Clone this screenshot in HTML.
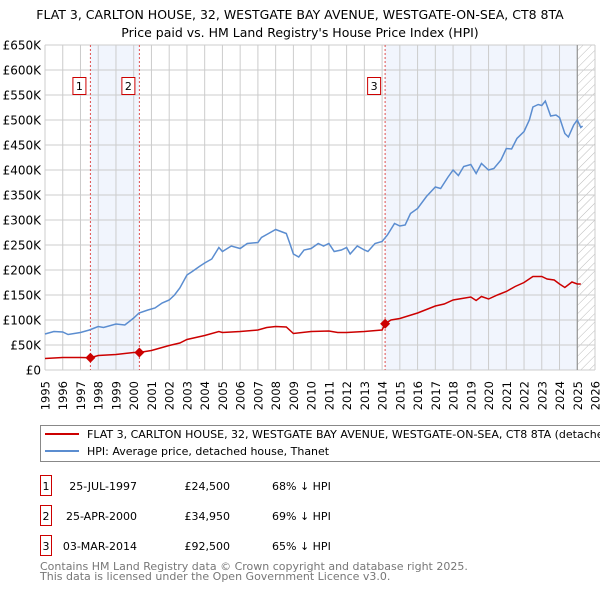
<!DOCTYPE html>
<html><head><meta charset="utf-8"><style>
body{margin:0;background:#fff;width:600px;height:590px;overflow:hidden;font-family:"DejaVu Sans","Liberation Sans",sans-serif;}
svg text{font-family:"DejaVu Sans","Liberation Sans",sans-serif;}
</style></head><body>
<svg id="chart" width="600" height="590">
<defs><pattern id="hatch" width="6" height="6" patternUnits="userSpaceOnUse" patternTransform="rotate(45)"><line x1="0" y1="0" x2="0" y2="6" stroke="#bbb" stroke-width="1"/></pattern></defs>
<text x="300" y="19" text-anchor="middle" font-size="12.5" fill="#000">FLAT 3, CARLTON HOUSE, 32, WESTGATE BAY AVENUE, WESTGATE-ON-SEA, CT8 8TA</text>
<text x="300" y="37" text-anchor="middle" font-size="12.5" fill="#000">Price paid vs. HM Land Registry's House Price Index (HPI)</text>
<g id="plot"></g>
<g>
<rect x="40.5" y="425.5" width="570" height="36" fill="#fff" stroke="#888"/>
<line x1="45" y1="434" x2="79" y2="434" stroke="#cc0000" stroke-width="2"/>
<text x="87" y="438" font-size="11">FLAT 3, CARLTON HOUSE, 32, WESTGATE BAY AVENUE, WESTGATE-ON-SEA, CT8 8TA (detached</text>
<line x1="45" y1="451" x2="79" y2="451" stroke="#5b8dd0" stroke-width="2"/>
<text x="87" y="455" font-size="11">HPI: Average price, detached house, Thanet</text>
</g>
<g id="table" font-size="11"></g>
<text x="40" y="570" font-size="11" fill="#777">Contains HM Land Registry data © Crown copyright and database right 2025.</text>
<text x="40" y="580" font-size="11" fill="#777">This data is licensed under the Open Government Licence v3.0.</text>
</svg>
<script>
const yTicks=[0,50,100,150,200,250,300,350,400,450,500,550,600,650];
const yTickLabels=["£0","£50K","£100K","£150K","£200K","£250K","£300K","£350K","£400K","£450K","£500K","£550K","£600K","£650K"];
const years=[1995,1996,1997,1998,1999,2000,2001,2002,2003,2004,2005,2006,2007,2008,2009,2010,2011,2012,2013,2014,2015,2016,2017,2018,2019,2020,2021,2022,2023,2024,2025,2026];
const hpiT=[1995,1995.5,1996,1996.3,1997,1997.5,1998,1998.3,1999,1999.5,2000,2000.3,2000.8,2001.2,2001.6,2002,2002.3,2002.6,2003,2003.3,2003.7,2004,2004.4,2004.8,2005,2005.5,2006,2006.4,2007,2007.2,2007.6,2008,2008.3,2008.6,2008.8,2009,2009.3,2009.6,2010,2010.4,2010.7,2011,2011.3,2011.7,2012,2012.2,2012.6,2013,2013.2,2013.6,2014,2014.3,2014.7,2015,2015.3,2015.6,2016,2016.5,2017,2017.3,2017.7,2018,2018.3,2018.6,2019,2019.3,2019.6,2020,2020.3,2020.7,2021,2021.3,2021.6,2022,2022.3,2022.5,2022.8,2023,2023.2,2023.5,2023.8,2024,2024.3,2024.5,2024.8,2025,2025.2,2025.3];
const hpiV=[72,77,76,71,75,80,87,85,92,90,104,114,120,124,134,140,150,164,190,197,207,214,222,245,237,248,243,253,255,265,273,281,277,273,253,232,226,240,243,253,248,253,237,240,245,232,248,240,237,253,257,270,293,288,290,313,323,347,366,363,385,400,389,407,411,393,413,400,403,420,443,442,463,477,500,526,531,529,538,508,510,505,473,466,490,500,485,488];
const redT=[1995,1996,1997,1997.56,1998,1999,2000,2000.3,2001,2002,2002.6,2003,2004,2004.8,2005,2006,2007,2007.5,2008,2008.6,2009,2010,2011,2011.5,2012,2013,2014,2014.17,2014.5,2015,2016,2017,2017.5,2018,2018.5,2019,2019.3,2019.6,2020,2020.5,2021,2021.5,2022,2022.5,2023,2023.3,2023.7,2024,2024.3,2024.7,2025,2025.2];
const redV=[23,25,25,24.5,29,31,35,34.95,39,49,54,61,69,77,75,77,80,85,87,86,73,77,78,75,75,77,80,92.5,100,103,114,128,132,140,143,146,139,147,142,150,157,167,175,187,187,182,180,172,165,176,172,172];
const saleT=[1997.56,2000.32,2014.17];
const saleV=[24.5,34.95,92.5];
const saleLabels=["1","2","3"];
const saleDates=["25-JUL-1997","25-APR-2000","03-MAR-2014"];
const salePrices=["£24,500","£34,950","£92,500"];
const saleHpi=["68% ↓ HPI","69% ↓ HPI","65% ↓ HPI"];
const L=45,R=595,T=45,B=370;
const x=t=>L+(t-1995)*(R-L)/31;
const y=v=>B-v*(B-T)/650;
const NS="http://www.w3.org/2000/svg";
const plot=document.getElementById('plot');
function mk(tag,attrs,parent){const e=document.createElementNS(NS,tag);for(const k in attrs)e.setAttribute(k,attrs[k]);(parent||plot).appendChild(e);return e;}
let e;
e=mk('rect',{x:x(saleT[0]),y:T,width:x(saleT[1])-x(saleT[0]),height:B-T,fill:'#eef3fc',opacity:0.8});


e=mk('rect',{x:x(saleT[2]),y:T,width:x(2025)-x(saleT[2]),height:B-T,fill:'#eef3fc',opacity:0.8});


e=mk('rect',{x:x(2025),y:T,width:R-x(2025),height:B-T,fill:'url(#hatch)'});


years.forEach(yr=>{e=mk('line',{x1:x(yr),x2:x(yr),y1:T,y2:B,stroke:'#ccc','stroke-width':1});


const tx=x(yr)+4.5,ty=B+11;
e=mk('text',{x:tx,y:ty,'text-anchor':'end','font-size':11.5,fill:'#000',transform:`rotate(-90 ${tx} ${ty})`});e.textContent=yr;

});
yTicks.forEach((v,i)=>{e=mk('line',{x1:L,x2:R,y1:y(v),y2:y(v),stroke:'#ccc','stroke-width':1});


e=mk('text',{x:41,y:y(v)+4.5,'text-anchor':'end','font-size':12,fill:'#000'});e.textContent=yTickLabels[i];

});
e=mk('line',{x1:x(2025),x2:x(2025),y1:T,y2:B,stroke:'#888','stroke-width':1});


saleT.forEach((t,i)=>{e=mk('line',{x1:x(t),x2:x(t),y1:T,y2:B,stroke:'#e05050','stroke-width':1,'stroke-dasharray':'2,2'});


e=mk('rect',{x:x(t)-17.5,y:77.5,width:13,height:17,fill:'#fff',stroke:'#cc0000'});


e=mk('text',{x:x(t)-11,y:90,'text-anchor':'middle','font-size':11});e.textContent=saleLabels[i];

});
e=mk('polyline',{points:hpiT.map((t,i)=>x(t)+','+y(hpiV[i])).join(' '),fill:'none',stroke:'#5b8dd0','stroke-width':1.5});


e=mk('polyline',{points:redT.map((t,i)=>x(t)+','+y(redV[i])).join(' '),fill:'none',stroke:'#cc0000','stroke-width':1.5});


saleT.forEach((t,i)=>{const cx=x(t),cy=y(saleV[i]);e=mk('polygon',{points:`${cx},${cy-5} ${cx+5},${cy} ${cx},${cy+5} ${cx-5},${cy}`,fill:'#cc0000'});

});
const tb=document.getElementById('table');
saleT.forEach((t,i)=>{const yy=486+i*30;
e=mk('rect',{x:40.5,y:yy-10.5,width:11,height:20,fill:'#fff',stroke:'#cc0000'},tb);


e=mk('text',{x:46,y:yy+4,'text-anchor':'middle'},tb);e.textContent=saleLabels[i];


e=mk('text',{x:137,y:yy+4,'text-anchor':'end'},tb);e.textContent=saleDates[i];


e=mk('text',{x:230,y:yy+4,'text-anchor':'end'},tb);e.textContent=salePrices[i];


e=mk('text',{x:272,y:yy+4},tb);e.textContent=saleHpi[i];

});
</script>
</body></html>
